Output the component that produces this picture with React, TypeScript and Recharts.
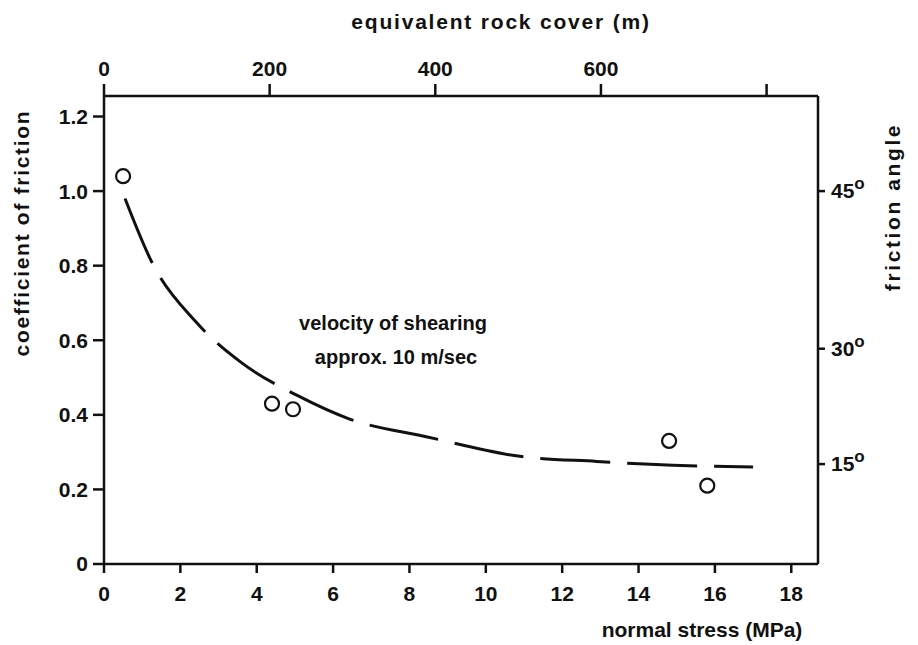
import { ComposedChart, Line, Scatter, XAxis, YAxis } from "recharts"

// measured points (normal stress MPa, coefficient of friction)
const measuredStress = [0.5, 4.4, 4.95, 14.8, 15.8]
const measuredFriction = [1.04, 0.43, 0.415, 0.33, 0.21]

// hand-drawn trend curve
const fitStress = [0.55, 1.25, 2.4, 3.6, 5.1, 6.4, 8.5, 10.8, 12.9, 14.9, 17.0]
const fitFriction = [0.98, 0.81, 0.65, 0.54, 0.45, 0.39, 0.34, 0.29, 0.275, 0.265, 0.26]

const stressTicks = [0, 2, 4, 6, 8, 10, 12, 14, 16, 18]
const rockCoverTicks = [0, 200, 400, 600, 800]
const frictionTicks = [0, 0.2, 0.4, 0.6, 0.8, 1.0, 1.2]
const angleTicks = [15, 30, 45]

// metres of rock per MPa
const metersPerMPa = 46.1

const points = measuredStress.map((x, i) => ({ x, y: measuredFriction[i] }))
const curve = fitStress.map((x, i) => ({ x, y: fitFriction[i] }))

const FONT = "'Liberation Sans', Arial, sans-serif"
const INK = "#111"
const tickStyle = { fill: INK, fontSize: 21, fontWeight: 700, fontFamily: FONT }

const AngleTick = ({ x, y, payload }: any) => {
  const deg = Math.round((Math.atan(payload.value) * 180) / Math.PI)
  return (
    <text x={x} y={y} dy="0.35em" textAnchor="start" {...tickStyle}>
      {deg}
      <tspan dy={-9} fontSize={17}>o</tspan>
    </text>
  )
}

// top axis tick: short mark pointing up plus the metre label
const CoverTick = ({ x, y, payload }: any) => {
  const m = Math.round((payload.value * metersPerMPa) / 100) * 100
  return (
    <g>
      <line x1={x} x2={x} y1={y} y2={y - 12} stroke={INK} strokeWidth={2.5} />
      {m !== 800 && (
        <text x={x} y={y - 20} textAnchor="middle" {...tickStyle}>
          {m}
        </text>
      )}
    </g>
  )
}

const Circle = (p: any) => (
  <circle cx={p.cx} cy={p.cy} r={7} fill="#fff" stroke={INK} strokeWidth={2.2} />
)

export default function App() {
  return (
    <div style={{ position: "absolute", left: 0, top: 0, width: 918, height: 645, background: "#fff" }}>
      <ComposedChart width={918} height={645} margin={{ top: 0, right: 0, bottom: 0, left: 0 }}>
        <XAxis
          xAxisId="bottom"
          dataKey="x"
          type="number"
          domain={[0, 18.7]}
          ticks={stressTicks}
          height={81}
          tickSize={9}
          tickMargin={13}
          tick={tickStyle}
          stroke={INK}
          strokeWidth={2.5}
        />
        <XAxis
          xAxisId="top"
          dataKey="x"
          orientation="top"
          type="number"
          domain={[0, 18.7]}
          ticks={rockCoverTicks.map((m) => m / metersPerMPa)}
          interval={0}
          height={96}
          tickSize={0}
          tickMargin={0}
          tickLine={false}
          tick={<CoverTick />}
          stroke={INK}
          strokeWidth={2.5}
        />
        <YAxis
          yAxisId="left"
          dataKey="y"
          type="number"
          domain={[0, 1.255]}
          ticks={frictionTicks}
          tickFormatter={(v: number) => (v === 0 ? "0" : v.toFixed(1))}
          width={104}
          tickSize={11}
          tickMargin={5}
          tick={tickStyle}
          stroke={INK}
          strokeWidth={2.5}
        />
        <YAxis
          yAxisId="right"
          dataKey="y"
          orientation="right"
          type="number"
          domain={[0, 1.255]}
          ticks={angleTicks.map((a) => Math.tan((a * Math.PI) / 180))}
          width={100}
          tickSize={7}
          tickMargin={6}
          tick={<AngleTick />}
          stroke={INK}
          strokeWidth={2.5}
        />
        <Line
          xAxisId="bottom"
          yAxisId="left"
          data={curve}
          dataKey="y"
          type="monotone"
          stroke={INK}
          strokeWidth={3}
          strokeDasharray="70 17"
          dot={false}
          activeDot={false}
          isAnimationActive={false}
        />
        {/* points on the top/right pair (same scales) so those axes are rendered too */}
        <Scatter
          xAxisId="top"
          yAxisId="right"
          data={points}
          dataKey="y"
          shape={<Circle />}
          isAnimationActive={false}
        />
      </ComposedChart>
      <svg
        width={918}
        height={645}
        style={{ position: "absolute", left: 0, top: 0, pointerEvents: "none" }}
        fontFamily={FONT}
        fontWeight={700}
        fontSize={21}
        fill={INK}
      >
        <text x={501} y={22} dy="0.35em" textAnchor="middle" letterSpacing={1.8}>equivalent rock cover (m)</text>
        <text x={702} y={630} dy="0.35em" textAnchor="middle">normal stress (MPa)</text>
        <text transform="translate(22,233) rotate(-90)" dy="0.35em" textAnchor="middle" letterSpacing={1.7}>coefficient of friction</text>
        <text transform="translate(893,207) rotate(-90)" dy="0.35em" textAnchor="middle" letterSpacing={2.6}>friction angle</text>
        <text x={393} y={323} dy="0.35em" textAnchor="middle" fontSize={20}>velocity of shearing</text>
        <text x={396} y={357} dy="0.35em" textAnchor="middle" fontSize={20}>approx. 10 m/sec</text>
      </svg>
    </div>
  )
}
